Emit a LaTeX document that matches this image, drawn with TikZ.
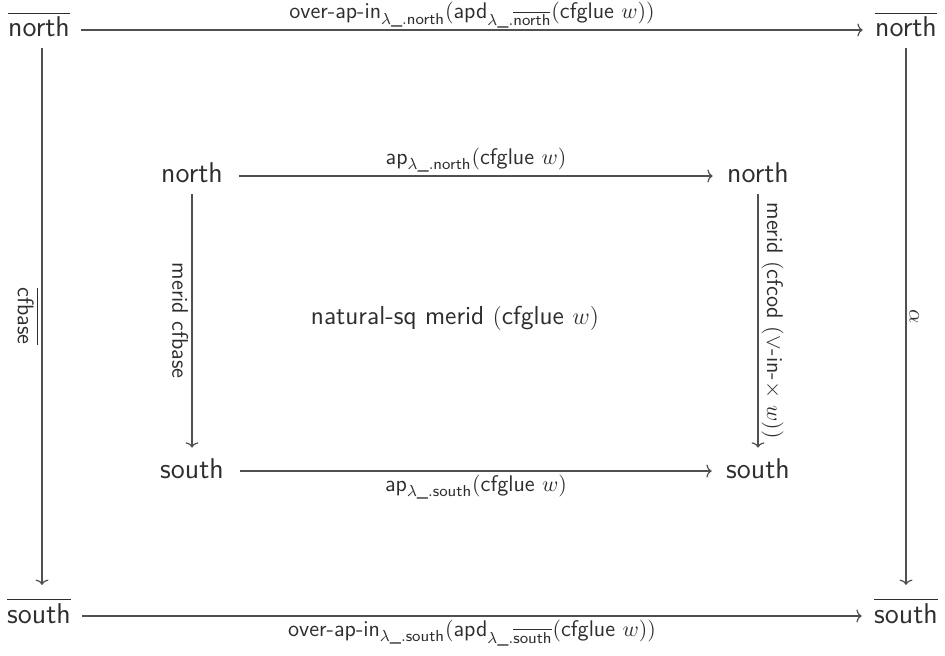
\documentclass[tikz,border=0pt]{standalone}
\usepackage{amsmath,amssymb}
\usepackage{xcolor}
\usepackage{tikz}
\usetikzlibrary{arrows.meta,calc,positioning}
\definecolor{Ink}{HTML}{2E2E2E}
\definecolor{WireGrey}{HTML}{505050}
\renewcommand{\familydefault}{\sfdefault}
\newcommand{\cfname}[1]{\textsf{#1}}
\newcommand{\lamblank}{\lambda\textsf{\_}.}
\tikzset{
  every picture/.style={line width=0.6pt},
  objnode/.style={text=Ink, font=\fontsize{14.3}{16}\selectfont, inner sep=0pt, anchor=base},
  maparrow/.style={-{To[length=2.6pt,width=6.5pt]}, draw=WireGrey},
  maplabel/.style={text=Ink, font=\fontsize{11.3}{13}\selectfont, inner sep=1.5pt},
  celllabel/.style={text=Ink, font=\fontsize{13}{15}\selectfont, inner sep=0pt}
}

\begin{document}
\begin{tikzpicture}[x=0.5pt,y=-0.5pt]
  \useasboundingbox (0,0) rectangle (945,656);

  % outer square
  \node[objnode] (tl) at (39,37)  {$\overline{\cfname{north}}$};
  \node[objnode] (tr) at (906,37) {$\overline{\cfname{north}}$};
  \node[objnode] (bl) at (39,623) {$\overline{\cfname{south}}$};
  \node[objnode] (br) at (906,623) {$\overline{\cfname{south}}$};

  % inner square
  \node[objnode] (in) at (192,183) {\cfname{north}};
  \node[objnode] (inr) at (758,183) {\cfname{north}};
  \node[objnode] (is) at (192,478) {\cfname{south}};
  \node[objnode] (isr) at (758,478) {\cfname{south}};

  \node[celllabel] (sq) at (455,318)
    {natural-sq merid $(\cfname{cfglue}\ w)$};

  \draw[maparrow] ([xshift=5.5pt,yshift=3.5pt]tl.base east) -- ([xshift=-6pt,yshift=3.5pt]tr.base west)
    node[maplabel,midway,above,inner sep=0.5pt]
    {$\cfname{over-ap-in}_{\lamblank\cfname{north}}(\cfname{apd}_{\lamblank\overline{\cfname{north}}}(\cfname{cfglue}\ w))$};
  \draw[maparrow] ([xshift=5.5pt,yshift=3.5pt]bl.base east) -- ([xshift=-6pt,yshift=3.5pt]br.base west)
    node[maplabel,midway,below]
    {$\cfname{over-ap-in}_{\lamblank\cfname{south}}(\cfname{apd}_{\lamblank\overline{\cfname{south}}}(\cfname{cfglue}\ w))$};
  \draw[maparrow] ([xshift=1.5pt,yshift=-5pt]tl.south) -- ([xshift=1.5pt,yshift=6pt]bl.north)
    node[maplabel,midway,rotate=-90,anchor=north] {$\overline{\cfname{cfbase}}$};
  \draw[maparrow] ([yshift=-5pt]tr.south) -- ([yshift=6pt]br.north)
    node[maplabel,midway,rotate=-90,anchor=south] {$\alpha$};

  \draw[maparrow] ([xshift=8pt,yshift=3.5pt]in.base east) -- ([xshift=-7pt,yshift=3.5pt]inr.base west)
    node[maplabel,midway,above] {$\cfname{ap}_{\lamblank\cfname{north}}(\cfname{cfglue}\ w)$};
  \draw[maparrow] ([xshift=8pt,yshift=3.5pt]is.base east) -- ([xshift=-7pt,yshift=3.5pt]isr.base west)
    node[maplabel,midway,below] {$\cfname{ap}_{\lamblank\cfname{south}}(\cfname{cfglue}\ w)$};
  \draw[maparrow] ([yshift=-5pt]in.south) -- ([yshift=5pt]is.north)
    node[maplabel,midway,rotate=-90,anchor=north] {\cfname{merid cfbase}};
  \draw[maparrow] ([yshift=-5pt]inr.south) -- ([yshift=5pt]isr.north)
    node[maplabel,midway,rotate=-90,anchor=south]
    {$\cfname{merid}\ (\cfname{cfcod}\ (\vee\text{-in-}{\times}\ w))$};
\end{tikzpicture}
\end{document}
